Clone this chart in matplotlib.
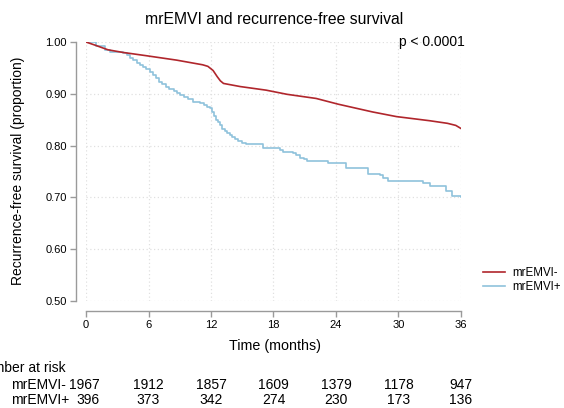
import matplotlib.pyplot as plt
import matplotlib

matplotlib.rcParams['font.family'] = ['Liberation Sans', 'DejaVu Sans']

# survival curves (months, proportion)
t_neg = [0, 1.0, 2.1, 3.5, 5.8, 8.7, 11.2, 11.7, 12.2, 12.6, 12.9, 13.2, 14.8, 17.3,
         19.3, 22.1, 24.2, 27.5, 29.8, 33.0, 34.7, 35.5, 36]
s_neg = [1.0, 0.993, 0.985, 0.980, 0.9735, 0.965, 0.956, 0.953, 0.945, 0.933, 0.925,
         0.920, 0.914, 0.907, 0.899, 0.891, 0.880, 0.865, 0.856, 0.848, 0.843, 0.839, 0.833]

t_pos = [0, 1.0, 1.8, 2.3, 3.55, 3.9, 4.2, 4.5, 4.9, 5.2, 5.5, 5.8, 6.1, 6.4, 6.7, 7.0,
         7.3, 7.7, 8.0, 8.4, 8.7, 9.0, 9.4, 9.8, 10.3, 10.9, 11.3, 11.6, 11.9, 12.1,
         12.3, 12.5, 12.7, 12.9, 13.1, 13.3, 13.5, 13.8, 14.0, 14.3, 14.6, 15.0, 15.4,
         17.0, 18.6, 18.9, 19.9, 20.2, 20.5, 20.9, 21.2, 23.2, 25.0, 27.1, 28.2, 28.5,
         29.0, 32.4, 33.0, 34.6, 35.1, 36]
s_pos = [1.0, 0.993, 0.985, 0.980, 0.978, 0.974, 0.969, 0.965, 0.960, 0.956, 0.951,
         0.947, 0.943, 0.937, 0.930, 0.923, 0.919, 0.914, 0.910, 0.906, 0.902, 0.898,
         0.894, 0.890, 0.885, 0.882, 0.878, 0.875, 0.872, 0.865, 0.857, 0.849, 0.845,
         0.840, 0.833, 0.829, 0.825, 0.820, 0.816, 0.812, 0.808, 0.805, 0.803, 0.796,
         0.791, 0.787, 0.785, 0.781, 0.777, 0.774, 0.771, 0.766, 0.756, 0.745, 0.743,
         0.737, 0.732, 0.727, 0.722, 0.713, 0.703, 0.700]

# number at risk
risk_times = [0, 6, 12, 18, 24, 30, 36]
risk_neg = [1967, 1912, 1857, 1609, 1379, 1178, 947]
risk_pos = [396, 373, 342, 274, 230, 173, 136]

red = '#b0262c'
blue = '#8fc2dc'
gray = '#9a9a9a'

W, H = 564, 408
fig = plt.figure(figsize=(W / 100, H / 100), dpi=100)
ax = fig.add_axes([86 / W, 1 - 301 / H, 375 / W, 259 / H])

ax.plot(t_neg, s_neg, color=red, lw=1.2, label='mrEMVI-', zorder=3)
ax.step(t_pos, s_pos, where='post', color=blue, lw=1.2, label='mrEMVI+', zorder=2)

ax.set_xlim(0, 36)
ax.set_ylim(0.5, 1.0)
ax.set_xticks(risk_times)
ax.set_yticks([0.5, 0.6, 0.7, 0.8, 0.9, 1.0])
ax.set_yticklabels(['0.50', '0.60', '0.70', '0.80', '0.90', '1.00'])
ax.grid(True, color='#e0e0e0', ls=(0, (1, 2)), lw=0.9)
ax.set_axisbelow(True)

for s in ['top', 'right']:
    ax.spines[s].set_visible(False)
ax.spines['left'].set_position(('outward', 7.2))
ax.spines['bottom'].set_position(('outward', 7.5))
ax.spines['left'].set_bounds(0.5, 1.0)
ax.spines['bottom'].set_bounds(0, 36)
for s in ['left', 'bottom']:
    ax.spines[s].set_color(gray)
    ax.spines[s].set_linewidth(1.0)
ax.tick_params(colors=gray, length=4, width=1.0, labelcolor='black', labelsize=8, pad=2.5)

# title, labels, p-value
fig.text(274 / W, 1 - 20 / H, 'mrEMVI and recurrence-free survival', ha='center', va='center', fontsize=11.3)
fig.text(18 / W, 1 - 171 / H, 'Recurrence-free survival (proportion)', rotation=90,
         ha='center', va='center', fontsize=10)
fig.text(275 / W, 1 - 346 / H, 'Time (months)', ha='center', va='center', fontsize=10.3)
fig.text(465 / W, 1 - 42 / H, 'p < 0.0001', ha='right', va='center', fontsize=10)

# legend
ax.legend(loc='center left', bbox_to_anchor=(483 / W, 1 - 280 / H), bbox_transform=fig.transFigure,
          frameon=False, fontsize=8.3, handlelength=1.9, labelspacing=0.1, handletextpad=0.6,
          borderpad=0, borderaxespad=0)

# risk table
fig.text(66 / W, 1 - 368 / H, 'Number at risk', ha='right', va='center', fontsize=10)
for label, counts, y in [('mrEMVI-', risk_neg, 385), ('mrEMVI+', risk_pos, 400)]:
    fig.text(11 / W, 1 - y / H, label, ha='left', va='center', fontsize=10)
    for t, n in zip(risk_times, counts):
        xp = ax.transData.transform((t, 0.5))[0]
        if t == 0:
            fig.text(100 / W, 1 - y / H, str(n), ha='right', va='center', fontsize=10)
        else:
            fig.text(xp / W, 1 - y / H, str(n), ha='center', va='center', fontsize=10)

fig.savefig('out.png', dpi=100)
